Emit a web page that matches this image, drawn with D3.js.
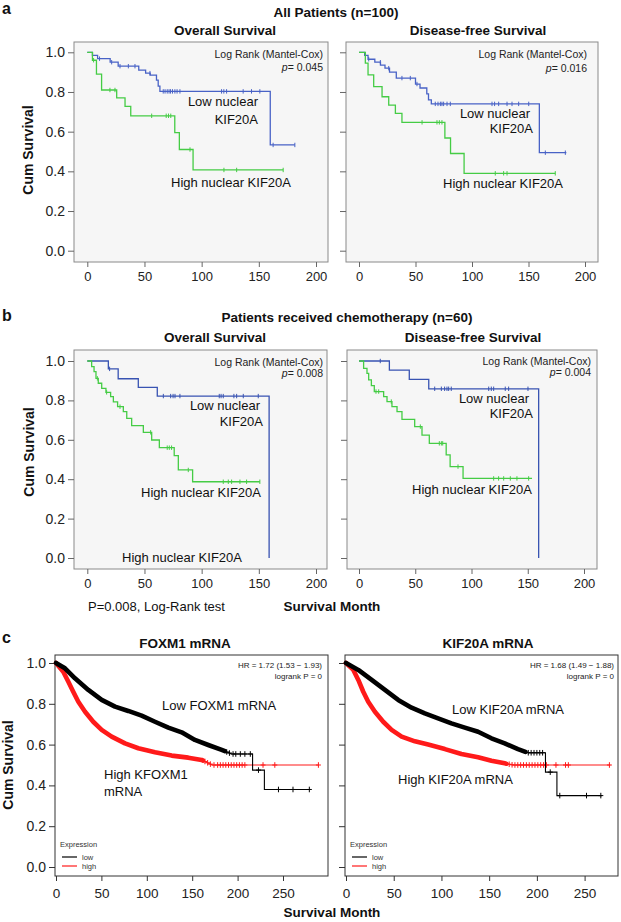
<!DOCTYPE html>
<html><head><meta charset="utf-8">
<script src="https://cdn.jsdelivr.net/npm/d3@7"></script>
<style>body{margin:0;background:#fff}svg{display:block}</style>
</head><body>
<svg id="chart" width="621" height="922"></svg>
<script>
// ---------------- DATA ----------------
// survival-time ticks
const kmTicksX = [0, 50, 100, 150, 200];
const kmTicksY = [0, 0.2, 0.4, 0.6, 0.8, 1.0];
const rTicksX = [0, 50, 100, 150, 200, 250];

// Panel a — All patients (n=100): steps [month, cum survival]
const aOsLow = [[4.5,0.985],[9,0.968],[20,0.95],[27,0.93],[45,0.91],[51,0.895],[55,0.885],[60.5,0.86],[62,0.83],[63.5,0.803],[160,0.533]];
const aOsLowEnd = 181.5;
const aOsLowCensor = [10.7,21.3,28.6,35.9,41.7,54.8,66.4,68,69.9,71.5,72.8,74.5,76.6,78.5,81,117.4,119.4,121.8,136.3,143.6,150.9,162.5,181.5];
const aOsHigh = [[4.5,0.96],[8,0.89],[12.5,0.81],[25.7,0.77],[33,0.727],[38,0.68],[76.5,0.595],[80.5,0.51],[92.5,0.407]];
const aOsHighEnd = 171.3;
const aOsHighCensor = [5.5,19.8,24.2,56.3,69,71,73,89.8,119.5,130.6,171.3];

const aDfsLow = [[5,0.985],[8,0.965],[14,0.95],[19,0.935],[23,0.92],[27,0.9],[33,0.87],[50,0.84],[54,0.82],[60,0.79],[61.5,0.76],[64,0.74],[159.6,0.494]];
const aDfsLowEnd = 183.5;
const aDfsLowCensor = [8.6,18.9,26.3,38,45.4,51.3,67.5,69.9,72,73.4,74.9,77.9,80.8,117.7,120,123.6,131,135.4,141.3,150.2,164.9,182.6];
const aDfsHigh = [[5.6,0.945],[8,0.886],[13,0.827],[20.4,0.776],[26.3,0.734],[32.2,0.692],[38,0.647],[76,0.568],[81,0.49],[93,0.39]];
const aDfsHighEnd = 173.7;
const aDfsHighCensor = [55.8,69,71.1,73.4,120.6,128,131,173.7];

// Panel b — Patients received chemotherapy (n=60)
const bOsLow = [[18.4,0.96],[27,0.91],[44.6,0.866],[61.2,0.822],[159,0]];
const bOsLowEnd = 159;
const bOsLowCensor = [19.5,66.5,72.9,75,76.7,81,115.4,117,118.9,128.2,130.6,136.4,149.5];
const bOsHigh = [[3.8,0.971],[5.9,0.946],[7.6,0.912],[9.6,0.887],[12.6,0.861],[16.3,0.841],[20.4,0.819],[22.8,0.793],[26.5,0.768],[31.5,0.743],[34.5,0.709],[38.8,0.672],[49,0.638],[56.3,0.599],[63,0.56],[76,0.52],[79.6,0.447],[92.1,0.387]];
const bOsHighEnd = 150.9;
const bOsHighCensor = [8.8,16.9,28.6,55.4,69.9,71.7,73.7,88.3,118.9,123.3,126.2,133.5,139.3,150.9];

const bDfsLow = [[27,0.954],[44.7,0.907],[62,0.859],[159.7,0]];
const bDfsLowEnd = 159.7;
const bDfsLowCensor = [18.9,67.3,73.2,76.1,78.2,79.7,82,115.3,117.6,119.7,130,133,150.2];
const bDfsHigh = [[4.1,0.963],[7.1,0.937],[8.6,0.904],[11,0.875],[13.6,0.845],[21.9,0.819],[24.9,0.794],[29.3,0.768],[33.8,0.743],[38.2,0.704],[49.5,0.667],[56,0.624],[62.5,0.582],[77.5,0.523],[81,0.464],[92.5,0.404]];
const bDfsHighEnd = 153.8;
const bDfsHighCensor = [15.1,17.5,28.7,54.5,71.4,73.2,74.4,88,119.7,124.1,128.6,134.5,140.4,150.8];

// Panel c — mRNA (large cohort), curve points [month, cum survival]
const cFoxLow = [[0,1],[9.9,0.974],[20.9,0.925],[35.6,0.868],[50.3,0.819],[65,0.786],[79.6,0.765],[94.3,0.742],[109,0.712],[123.7,0.683],[138.4,0.66],[153,0.623],[167.7,0.598],[182.5,0.574],[193.5,0.554],[216.5,0.554],[216.5,0.475],[229.5,0.475],[229.5,0.38],[280,0.38]];
const cFoxLowDenseEnd = 186;
const cFoxLowCensor = [188,191,195,198,203,208,214,223,245,261,279];
const cFoxHigh = [[0,1],[8,0.957],[13.6,0.908],[19,0.859],[24.6,0.81],[32,0.761],[41,0.712],[50.3,0.672],[61.3,0.639],[76,0.606],[90.6,0.582],[109,0.562],[127.4,0.546],[145.7,0.536],[160.4,0.525],[172,0.5],[289,0.5]];
const cFoxHighDenseEnd = 162;
const cFoxHighCensor = [164,167,170,174,178,181,184,187,190,193,196,199,202,205,208,228,241,289];

const cKifLow = [[0,1],[12.9,0.966],[26.9,0.917],[40.8,0.868],[54.7,0.819],[68.7,0.781],[82.6,0.753],[96.5,0.729],[110.5,0.704],[124.5,0.683],[138.4,0.663],[152.4,0.631],[166.3,0.606],[180.2,0.578],[190.7,0.56],[209,0.56],[209,0.465],[221,0.465],[221,0.35],[268,0.35]];
const cKifLowDenseEnd = 188;
const cKifLowCensor = [191,194,197,200,203,206,214,224,252,267];
const cKifHigh = [[0,1],[7.7,0.966],[12.9,0.917],[18.1,0.859],[23.3,0.81],[30.3,0.761],[39,0.712],[47.8,0.672],[58.3,0.639],[72.2,0.616],[86.1,0.6],[103.6,0.578],[121,0.554],[138.4,0.538],[152.4,0.521],[166.3,0.508],[175,0.5],[277,0.5]];
const cKifHighDenseEnd = 168;
const cKifHighCensor = [171,174,177,180,183,186,189,192,195,198,201,204,207,210,220,230,233,276];

// ---------------- DRAWING ----------------
const svg = d3.select("#chart");
const FONT = "'Liberation Sans', Arial, Helvetica, sans-serif";

function txt(x, y, s, o = {}) {
  const t = svg.append("text").attr("x", x).attr("y", y).attr("dy", "0.35em")
    .attr("font-family", FONT).attr("font-size", o.size || 13)
    .attr("font-weight", o.bold ? "bold" : "normal")
    .attr("text-anchor", o.anchor || "start")
    .attr("fill", o.fill || "#111").text(s);
  if (o.rotate) t.attr("transform", `rotate(${o.rotate},${x},${y})`);
  return t;
}

function styleAxis(sel, color, size) {
  sel.select(".domain").remove();
  sel.selectAll(".tick line").attr("stroke", color);
  sel.selectAll(".tick text").attr("font-family", FONT).attr("font-size", size).attr("fill", "#222");
}

function stepSurv(steps, t) {
  let s = 1;
  for (const [tt, ss] of steps) { if (tt <= t) s = ss; }
  return s;
}

function kmPanel(cfg) {
  const f = cfg.frame;
  const x = d3.scaleLinear().domain([0, 200]).range(cfg.xRange);
  const y = d3.scaleLinear().domain([0, 1]).range(cfg.yRange);
  const g = svg.append("g");
  g.append("rect").attr("x", f[0]).attr("y", f[1]).attr("width", f[2] - f[0]).attr("height", f[3] - f[1])
    .attr("fill", "#f6f6f6").attr("stroke", "#8a8a8a").attr("stroke-width", 1);
  const xa = g.append("g").attr("transform", `translate(0,${f[3]})`)
    .call(d3.axisBottom(x).tickValues(kmTicksX).tickSize(5).tickPadding(5).tickFormat(d3.format("d")));
  styleAxis(xa, "#666", 13);
  const ya = g.append("g").attr("transform", `translate(${f[0]},0)`)
    .call(d3.axisLeft(y).tickValues(kmTicksY).tickSize(6).tickPadding(3)
      .tickFormat(cfg.yLabels ? d3.format(".1f") : () => ""));
  styleAxis(ya, "#666", 14);
  const line = d3.line().x(d => x(d[0])).y(d => y(d[1])).curve(d3.curveStepAfter);
  cfg.curves.forEach(c => {
    const pts = [[0, 1], ...c.steps, [c.end, c.steps[c.steps.length - 1][1]]];
    g.append("path").attr("d", line(pts)).attr("fill", "none").attr("stroke", c.color).attr("stroke-width", 1.3);
    c.censor.forEach(t => {
      const cx = x(t), cy = y(stepSurv(c.steps, t));
      g.append("line").attr("x1", cx).attr("x2", cx).attr("y1", cy - 2.2).attr("y2", cy + 2.2)
        .attr("stroke", c.color).attr("stroke-width", 1);
    });
  });
}

function interp(pts, t) {
  for (let i = 0; i < pts.length - 1; i++) {
    const a = pts[i], b = pts[i + 1];
    if (t >= a[0] && t <= b[0]) {
      if (b[0] === a[0]) return b[1];
      return a[1] + (b[1] - a[1]) * (t - a[0]) / (b[0] - a[0]);
    }
  }
  return pts[pts.length - 1][1];
}

function rPanel(cfg) {
  const f = cfg.frame;
  const x = d3.scaleLinear().domain(cfg.xDomain).range(cfg.xRange);
  const y = d3.scaleLinear().domain([0, 1]).range(cfg.yRange);
  const g = svg.append("g");
  g.append("rect").attr("x", f[0]).attr("y", f[1]).attr("width", f[2] - f[0]).attr("height", f[3] - f[1])
    .attr("fill", "#fff").attr("stroke", "#333").attr("stroke-width", 1);
  const xa = g.append("g").attr("transform", `translate(0,${f[3]})`)
    .call(d3.axisBottom(x).tickValues(rTicksX).tickSize(5).tickPadding(7).tickFormat(d3.format("d")));
  styleAxis(xa, "#333", 13.5);
  const ya = g.append("g").attr("transform", `translate(${f[0]},0)`)
    .call(d3.axisLeft(y).tickValues(kmTicksY).tickSize(6).tickPadding(3)
      .tickFormat(cfg.yLabels ? d3.format(".1f") : () => ""));
  styleAxis(ya, "#333", 14);
  const line = d3.line().x(d => x(d[0])).y(d => y(d[1]));
  cfg.curves.forEach(c => {
    g.append("path").attr("d", line(c.pts)).attr("fill", "none").attr("stroke", c.color).attr("stroke-width", 1.1);
    const dense = c.pts.filter(p => p[0] <= c.denseEnd);
    dense.push([c.denseEnd, interp(c.pts, c.denseEnd)]);
    g.append("path").attr("d", line(dense)).attr("fill", "none").attr("stroke", c.color)
      .attr("stroke-width", 4.6).attr("stroke-linejoin", "round").attr("stroke-linecap", "round");
    c.censor.forEach(t => {
      const cx = x(t), cy = y(interp(c.pts, t));
      g.append("line").attr("x1", cx).attr("x2", cx).attr("y1", cy - 2.8).attr("y2", cy + 2.8)
        .attr("stroke", c.color).attr("stroke-width", 1);
      g.append("line").attr("x1", cx - 2.5).attr("x2", cx + 2.5).attr("y1", cy).attr("y2", cy)
        .attr("stroke", c.color).attr("stroke-width", 1);
    });
  });
  // legend
  const lx = f[0] + 5, ly = cfg.yRange[0] - 23;
  txt(lx, ly, "Expression", { size: 7.5, fill: "#333" });
  [["low", "#000"], ["high", "#ff1a1a"]].forEach((d, i) => {
    const yy = ly + 13 + i * 9;
    g.append("line").attr("x1", lx + 2).attr("x2", lx + 17).attr("y1", yy).attr("y2", yy)
      .attr("stroke", d[1]).attr("stroke-width", 1.2);
    txt(lx + 22, yy, d[0], { size: 7.5, fill: "#333" });
  });
}

const BLUE_A = "#4862c6", BLUE_B = "#3853b2", GREEN = "#45cc45";

// ---- Panel a ----
txt(2, 8, "a", { bold: true, size: 16 });
txt(336, 12, "All Patients (n=100)", { bold: true, size: 13.5, anchor: "middle" });
txt(225, 30, "Overall Survival", { bold: true, size: 13.5, anchor: "middle" });
txt(478, 30, "Disease-free Survival", { bold: true, size: 13.5, anchor: "middle" });
txt(28, 150, "Cum Survival", { bold: true, size: 14, anchor: "middle", rotate: -90 });

kmPanel({ frame: [74, 42, 328, 262], xRange: [87.3, 316], yRange: [250.7, 52.3], yLabels: true,
  curves: [
    { steps: aOsLow, end: aOsLowEnd, censor: aOsLowCensor, color: BLUE_A },
    { steps: aOsHigh, end: aOsHighEnd, censor: aOsHighCensor, color: GREEN }] });
kmPanel({ frame: [346, 42, 598, 262], xRange: [359, 585], yRange: [250.7, 52.3], yLabels: false,
  curves: [
    { steps: aDfsLow, end: aDfsLowEnd, censor: aDfsLowCensor, color: BLUE_A },
    { steps: aDfsHigh, end: aDfsHighEnd, censor: aDfsHighCensor, color: GREEN }] });

function pText(xr, y, val) {
  const t = txt(xr, y, "", { size: 10.5, anchor: "end", fill: "#222" });
  t.append("tspan").attr("font-style", "italic").text("p");
  t.append("tspan").text("= " + val);
}
txt(323, 54, "Log Rank (Mantel-Cox)", { size: 10.5, anchor: "end", fill: "#222" });
pText(323, 67, "0.045");
txt(587, 54, "Log Rank (Mantel-Cox)", { size: 10.5, anchor: "end", fill: "#222" });
pText(587, 68, "0.016");

txt(258, 101, "Low nuclear", { anchor: "end" });
txt(258, 119, "KIF20A", { anchor: "end" });
txt(171, 182, "High nuclear KIF20A");
txt(530, 113, "Low nuclear", { anchor: "end" });
txt(533, 128, "KIF20A", { anchor: "end" });
txt(443, 183, "High nuclear KIF20A");

// ---- Panel b ----
txt(2, 315, "b", { bold: true, size: 16 });
txt(347, 317, "Patients received chemotherapy  (n=60)", { bold: true, size: 13.5, anchor: "middle" });
txt(215, 337, "Overall Survival", { bold: true, size: 13.5, anchor: "middle" });
txt(473, 337, "Disease-free Survival", { bold: true, size: 13.5, anchor: "middle" });
txt(29, 452, "Cum Survival", { bold: true, size: 14, anchor: "middle", rotate: -90 });

kmPanel({ frame: [74, 350, 327, 569], xRange: [87.3, 316], yRange: [558, 361], yLabels: true,
  curves: [
    { steps: bOsLow, end: bOsLowEnd, censor: bOsLowCensor, color: BLUE_B },
    { steps: bOsHigh, end: bOsHighEnd, censor: bOsHighCensor, color: GREEN }] });
kmPanel({ frame: [347, 350, 597, 569], xRange: [359, 584], yRange: [558, 361], yLabels: false,
  curves: [
    { steps: bDfsLow, end: bDfsLowEnd, censor: bDfsLowCensor, color: BLUE_B },
    { steps: bDfsHigh, end: bDfsHighEnd, censor: bDfsHighCensor, color: GREEN }] });

txt(323, 362, "Log Rank (Mantel-Cox)", { size: 10.5, anchor: "end", fill: "#222" });
pText(323, 373, "0.008");
txt(591, 361, "Log Rank (Mantel-Cox)", { size: 10.5, anchor: "end", fill: "#222" });
pText(591, 372, "0.004");

txt(260, 405, "Low nuclear", { anchor: "end" });
txt(263, 421, "KIF20A", { anchor: "end" });
txt(141, 492, "High nuclear KIF20A");
txt(122, 557, "High nuclear KIF20A");
txt(529, 398, "Low nuclear", { anchor: "end" });
txt(533, 413, "KIF20A", { anchor: "end" });
txt(412, 489, "High nuclear KIF20A");

txt(88, 606, "P=0.008, Log-Rank test");
txt(332, 606, "Survival Month", { bold: true, size: 13.5, anchor: "middle" });

// ---- Panel c ----
txt(2, 637, "c", { bold: true, size: 16 });
txt(185, 643, "FOXM1 mRNA", { bold: true, size: 13.5, anchor: "middle" });
txt(488, 643, "KIF20A mRNA", { bold: true, size: 13.5, anchor: "middle" });
txt(8, 765, "Cum Survival", { bold: true, size: 14, anchor: "middle", rotate: -90 });

rPanel({ frame: [55, 655, 328, 876], xDomain: [0, 300], xRange: [56, 328.4], yRange: [867, 663], yLabels: true,
  curves: [
    { pts: cFoxHigh, denseEnd: cFoxHighDenseEnd, censor: cFoxHighCensor, color: "#ff1a1a" },
    { pts: cFoxLow, denseEnd: cFoxLowDenseEnd, censor: cFoxLowCensor, color: "#000" }] });
rPanel({ frame: [345, 655, 618, 876], xDomain: [0, 285], xRange: [346, 618], yRange: [867, 663], yLabels: false,
  curves: [
    { pts: cKifHigh, denseEnd: cKifHighDenseEnd, censor: cKifHighCensor, color: "#ff1a1a" },
    { pts: cKifLow, denseEnd: cKifLowDenseEnd, censor: cKifLowCensor, color: "#000" }] });

txt(322, 665, "HR = 1.72 (1.53 \u2212 1.93)", { size: 8, anchor: "end", fill: "#222" });
txt(322, 676, "logrank P = 0", { size: 8, anchor: "end", fill: "#222" });
txt(614, 665, "HR = 1.68 (1.49 \u2212 1.88)", { size: 8, anchor: "end", fill: "#222" });
txt(614, 676, "logrank P = 0", { size: 8, anchor: "end", fill: "#222" });

txt(162, 705, "Low FOXM1 mRNA");
txt(104, 774, "High KFOXM1");
txt(104, 791, "mRNA");
txt(452, 709, "Low KIF20A mRNA");
txt(398, 779, "High KIF20A mRNA");

txt(332, 912, "Survival Month", { bold: true, size: 13.5, anchor: "middle" });
</script>
</body></html>
